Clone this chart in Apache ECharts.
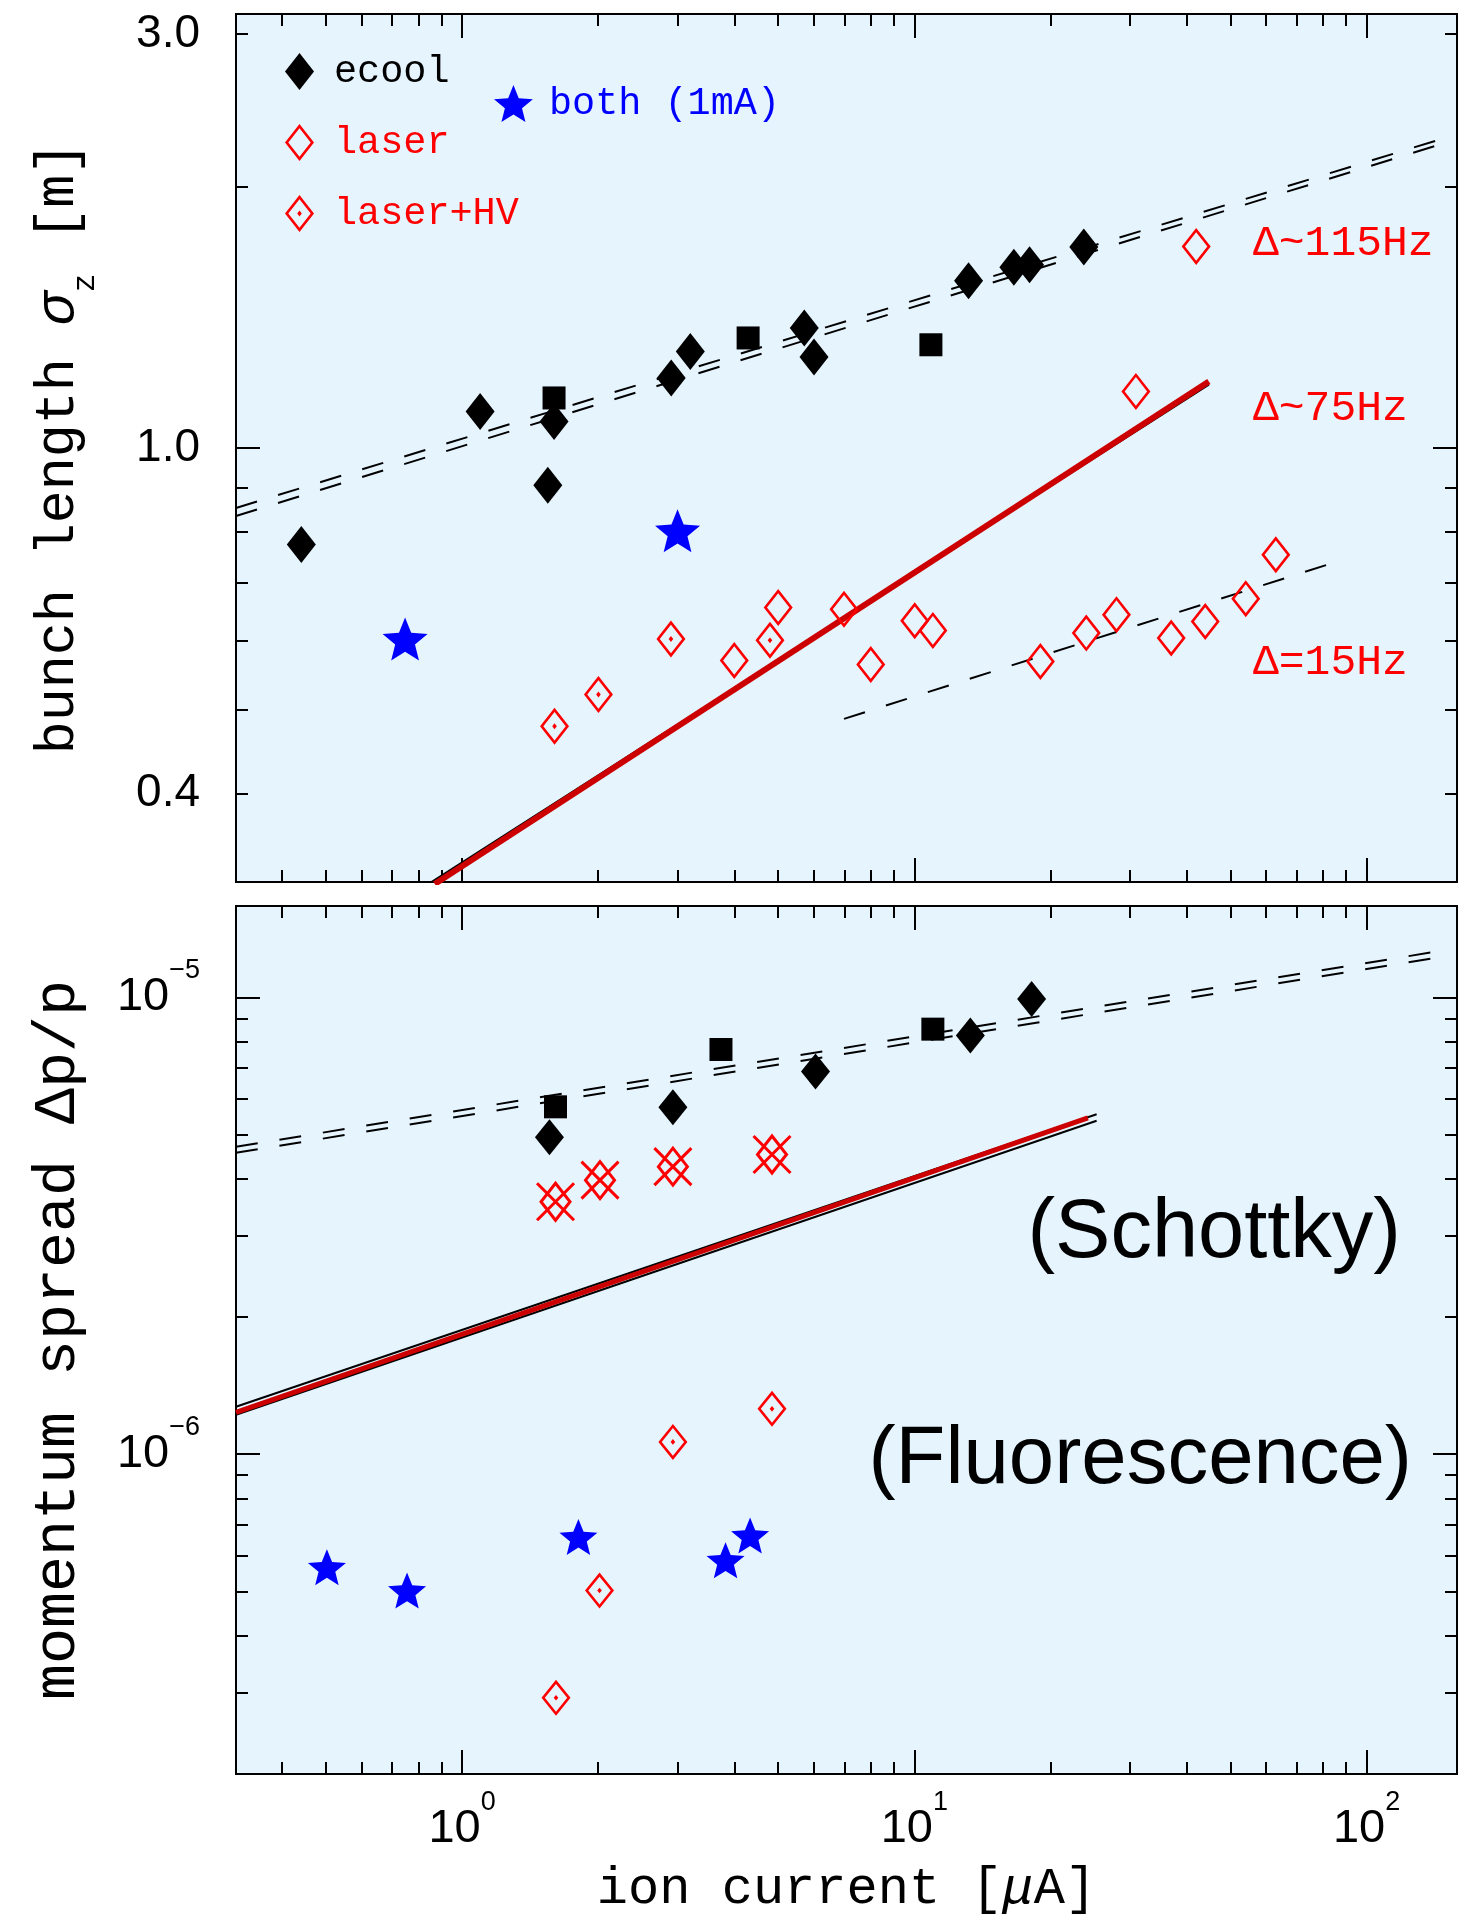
<!DOCTYPE html>
<html><head><meta charset="utf-8">
<script src="https://cdn.jsdelivr.net/npm/echarts@6/dist/echarts.min.js"></script>
<style>html,body{margin:0;padding:0;background:#fff}#chart{width:1473px;height:1926px}</style>
</head><body><div id="chart"></div>
<script>
// ===== DATA: [ion current (uA), value] =====
// upper panel: bunch length sigma_z [m]
const ecoolTop   = [[0.441,0.774],[1.096,1.102],[1.597,1.073],[1.547,0.906],[2.90,1.204],[3.196,1.292],[5.71,1.375],[6.0,1.273],[13.18,1.558],[16.6,1.615],[17.98,1.626],[23.7,1.704]];
const ecoolSqTop = [[1.597,1.142],[4.29,1.339],[10.88,1.315]];
const laserTop   = [[3.998,0.569],[5.0,0.655],[6.99,0.652],[8.01,0.563],[10.02,0.6325],[10.99,0.6164],[19.0,0.5677],[24.0,0.612],[27.99,0.6427],[36.98,0.604],[43.98,0.631],[54.06,0.6706],[63.0,0.7535],[30.9,1.162],[42.0,1.707]];
const laserHVTop = [[1.601,0.478],[2.002,0.520],[2.896,0.6025],[4.795,0.6004]];
const bothTop    = [[0.748,0.6025],[2.995,0.803]];
const fitEcoolTopA = [[0.3162,0.853],[144.5,2.265]];
const fitEcoolTopB = [[0.3162,0.835],[144.5,2.235]];
const fit75Red     = [[0.87,0.3146],[44.8,1.193]];
const fit75Black   = [[0.834,0.3135],[44.8,1.183]];
const fit15        = [[6.99,0.4874],[90.0,0.7454]];
// lower panel: momentum spread dp/p
const ecoolBot   = [[1.56,4.94e-6],[2.925,5.75e-6],[6.046,6.88e-6],[13.3,8.25e-6],[18.17,9.92e-6]];
const ecoolSqBot = [[1.609,5.76e-6],[3.736,7.69e-6],[10.99,8.52e-6]];
const laserSchBot = [[1.609,3.57e-6],[2.018,3.98e-6],[2.925,4.26e-6],[4.845,4.53e-6]];
const laserHVBot = [[1.613,2.93e-7],[2.013,5.03e-7],[2.925,1.064e-6],[4.845,1.257e-6]];
const bothBot    = [[0.5024,5.66e-7],[0.7555,5.03e-7],[1.808,6.59e-7],[3.824,5.86e-7],[4.333,6.64e-7]];
const fitEcoolBotA = [[0.3162,4.71e-6],[144.5,1.262e-5]];
const fitEcoolBotB = [[0.3162,4.57e-6],[144.5,1.224e-5]];
const fitSchRed    = [[0.3162,1.235e-6],[24.2,5.45e-6]];
const fitSchBlackA = [[0.3162,1.27e-6],[25.3,5.55e-6]];
const fitSchBlackB = [[0.3162,1.22e-6],[25.3,5.37e-6]];
// axes
const X_RANGE = [0.31623, 158.49];
const Y_TOP_RANGE = [0.31623, 3.1623];
const Y_BOT_RANGE = [1.9953e-7, 1.5849e-5];
const xMajor = [1, 10, 100];
const xMinor = [0.4,0.5,0.6,0.7,0.8,0.9,2,3,4,5,6,7,8,9,20,30,40,50,60,70,80,90];
const xLabels = [1, 10, 100];
const yTopMajor = [1];
const yTopMinor = [0.4,0.5,0.6,0.7,0.8,0.9,2,3];
const yTopLabels = [0.4, 1, 3];
const yBotMajor = [1e-6, 1e-5];
const yBotMinor = [3e-7,4e-7,5e-7,6e-7,7e-7,8e-7,9e-7,2e-6,3e-6,4e-6,5e-6,6e-6,7e-6,8e-6,9e-6];
const yBotLabels = [1e-6, 1e-5];

// ===== STYLE =====
const RED = '#ff0000', DRED = '#cc0000', BLUE = '#0000ff';
const DIAMOND = 'path://M14.5,0L29,18.5L14.5,37L0,18.5Z';
const DIAMOND_RING = 'path://M14.5,0L29,18.5L14.5,37L0,18.5Z M14.5,4.22L3.31,18.5L14.5,32.78L25.69,18.5Z';
const DIAMOND_RING_DOT = DIAMOND_RING + ' M14.5,15.6L16.8,18.5L14.5,21.4L12.2,18.5Z';
const STAR = 'path://M50,0L62.93,32.2L97.55,34.55L70.92,56.8L79.39,90.45L50,72L20.61,90.45L29.08,56.8L2.45,34.55L37.07,32.2Z';
const XDIAMOND = 'path://M0,0L37,37M37,0L0,37M18.5,0L33,18.5L18.5,37L4,18.5Z';
const MONO = 'Liberation Mono', SANS = 'Liberation Sans';

const expRich = {
  b: {fontFamily: SANS, fontSize: 47, lineHeight: 80, color: '#000'},
  s: {fontFamily: SANS, fontSize: 27, lineHeight: 27, verticalAlign: 'top', color: '#000'}
};
function expFmt(v) {
  const e = Math.round(Math.log10(v));
  return '{b|10}{s|' + (e < 0 ? '\u2212' + (-e) : String(e)) + '}';
}

function axis(gridIndex, position, range, ticks, len, extra) {
  return Object.assign({
    type: 'log', logBase: 10, gridIndex: gridIndex, position: position,
    min: range[0], max: range[1],
    axisLine: {show: false},
    axisTick: {show: true, inside: true, length: len, customValues: ticks, lineStyle: {color: '#000', width: 2}},
    axisLabel: {show: false},
    splitLine: {show: false},
    minorTick: {show: false}, minorSplitLine: {show: false},
    nameMoveOverlap: false
  }, extra || {});
}

const xAxes = [
  axis(0, 'bottom', X_RANGE, xMajor, 24),
  axis(0, 'bottom', X_RANGE, xMinor, 12),
  axis(0, 'top', X_RANGE, xMajor, 24),
  axis(0, 'top', X_RANGE, xMinor, 12),
  axis(1, 'bottom', X_RANGE, xMajor, 24, {
    axisLabel: {show: true, customValues: xLabels, margin: 15, formatter: expFmt, rich: expRich, color: '#000'},
    name: 'ion current [{i|\u03bc}A]', nameLocation: 'middle', nameGap: 89,
    nameTextStyle: {fontFamily: MONO, fontSize: 52, color: '#000', lineHeight: 52,
      rich: {i: {fontFamily: MONO, fontStyle: 'italic', fontSize: 52, lineHeight: 52, color: '#000'}}}
  }),
  axis(1, 'bottom', X_RANGE, xMinor, 12),
  axis(1, 'top', X_RANGE, xMajor, 24),
  axis(1, 'top', X_RANGE, xMinor, 12)
];
const yAxes = [
  axis(0, 'left', Y_TOP_RANGE, yTopMajor, 24, {
    axisLabel: {show: true, customValues: yTopLabels, margin: 36, formatter: function (v) { return Number(v).toFixed(1); },
      fontFamily: SANS, fontSize: 46, color: '#000'},
    name: 'bunch length {s|\u03c3}{sub|z} [m]', nameLocation: 'middle', nameRotate: 90, nameGap: 135,
    nameTextStyle: {fontFamily: MONO, fontSize: 55, color: '#000', lineHeight: 86, rich: {
      s: {fontFamily: MONO, fontStyle: 'italic', fontSize: 55, lineHeight: 86, color: '#000'},
      sub: {fontFamily: MONO, fontSize: 31, lineHeight: 30, verticalAlign: 'bottom', color: '#000'}
    }}
  }),
  axis(0, 'left', Y_TOP_RANGE, yTopMinor, 12),
  axis(0, 'right', Y_TOP_RANGE, yTopMajor, 24),
  axis(0, 'right', Y_TOP_RANGE, yTopMinor, 12),
  axis(1, 'left', Y_BOT_RANGE, yBotMajor, 24, {
    axisLabel: {show: true, customValues: yBotLabels, margin: 36, formatter: expFmt, rich: expRich, color: '#000'},
    name: 'momentum spread \u0394p/p', nameLocation: 'middle', nameRotate: 90, nameGap: 135,
    nameTextStyle: {fontFamily: MONO, fontSize: 60, color: '#000', lineHeight: 86}
  }),
  axis(1, 'left', Y_BOT_RANGE, yBotMinor, 12),
  axis(1, 'right', Y_BOT_RANGE, yBotMajor, 24),
  axis(1, 'right', Y_BOT_RANGE, yBotMinor, 12)
];

function sc(name, data, g, symbol, size, itemStyle) {
  return {type: 'scatter', name: name, data: data, xAxisIndex: g * 4, yAxisIndex: g * 4,
    symbol: symbol, symbolSize: size, itemStyle: Object.assign({opacity: 1}, itemStyle), z: 5, silent: true};
}
function ln(data, g, color, width, type, z) {
  return {type: 'line', data: data, xAxisIndex: g * 4, yAxisIndex: g * 4, symbol: 'none', showSymbol: false,
    clip: true, silent: true, z: z || 3, lineStyle: {color: color, width: width, type: type || 'solid', opacity: 1}};
}

const series = [
  // upper panel lines
  ln(fitEcoolTopA, 0, '#000', 2, [22, 22]),
  ln(fitEcoolTopB, 0, '#000', 2, [22, 22]),
  ln(fit75Black, 0, '#000', 2),
  ln(fit75Red, 0, DRED, 6, 'solid', 4),
  ln(fit15, 0, '#000', 2, [22, 22]),
  // upper panel points
  sc('ecool', ecoolTop, 0, DIAMOND, [29, 37], {color: '#000'}),
  sc('ecool (square)', ecoolSqTop, 0, 'rect', 23, {color: '#000'}),
  sc('laser', laserTop, 0, DIAMOND_RING, [29, 37], {color: RED}),
  sc('laser+HV', laserHVTop, 0, DIAMOND_RING_DOT, [29, 37], {color: RED}),
  sc('both (1mA)', bothTop, 0, STAR, [45, 43], {color: BLUE}),
  // lower panel lines
  ln(fitEcoolBotA, 1, '#000', 2, [22, 22]),
  ln(fitEcoolBotB, 1, '#000', 2, [22, 22]),
  ln(fitSchBlackA, 1, '#000', 2),
  ln(fitSchBlackB, 1, '#000', 2),
  ln(fitSchRed, 1, DRED, 5, 'solid', 4),
  // lower panel points
  sc('ecool', ecoolBot, 1, DIAMOND, [29, 36], {color: '#000'}),
  sc('ecool (square)', ecoolSqBot, 1, 'rect', 23, {color: '#000'}),
  sc('laser (Schottky)', laserSchBot, 1, XDIAMOND, [37, 37], {color: 'transparent', borderColor: RED, borderWidth: 3}),
  sc('laser+HV', laserHVBot, 1, DIAMOND_RING_DOT, [29, 36], {color: RED}),
  sc('both (1mA)', bothBot, 1, STAR, [38, 36], {color: BLUE})
];

const gridStyle = {show: true, backgroundColor: '#e6f4fe', borderColor: '#000', borderWidth: 2, containLabel: false, outerBoundsMode: 'none'};

const option = {
  animation: false,
  backgroundColor: '#ffffff',
  grid: [
    Object.assign({left: 236, top: 14, width: 1221, height: 868}, gridStyle),
    Object.assign({left: 236, top: 906, width: 1221, height: 868}, gridStyle)
  ],
  xAxis: xAxes,
  yAxis: yAxes,
  legend: [
    {orient: 'vertical', left: 285, top: 52, padding: 0, itemWidth: 59, itemHeight: 37, itemGap: 32,
      selectedMode: false, symbolKeepAspect: true,
      textStyle: {fontFamily: MONO, fontSize: 38.5},
      data: [{name: 'ecool', textStyle: {color: '#000'}},
             {name: 'laser', textStyle: {color: RED}},
             {name: 'laser+HV', textStyle: {color: RED}}]},
    {orient: 'vertical', left: 494, top: 84, padding: 0, itemWidth: 61, itemHeight: 37,
      selectedMode: false, symbolKeepAspect: true,
      textStyle: {fontFamily: MONO, fontSize: 38.5},
      data: [{name: 'both (1mA)', textStyle: {color: BLUE}}]}
  ],
  graphic: [
    {type: 'text', x: 1253, y: 244, style: {text: '\u0394~115Hz', fill: RED, fontFamily: MONO, fontSize: 43, align: 'left', verticalAlign: 'middle'}},
    {type: 'text', x: 1253, y: 409, style: {text: '\u0394~75Hz', fill: RED, fontFamily: MONO, fontSize: 43, align: 'left', verticalAlign: 'middle'}},
    {type: 'text', x: 1253, y: 663, style: {text: '\u0394=15Hz', fill: RED, fontFamily: MONO, fontSize: 43, align: 'left', verticalAlign: 'middle'}},
    {type: 'text', x: 1401, y: 1234, style: {text: '(Schottky)', fill: '#000', fontFamily: SANS, fontSize: 83, align: 'right', verticalAlign: 'middle'}},
    {type: 'text', x: 1412, y: 1461, style: {text: '(Fluorescence)', fill: '#000', fontFamily: SANS, fontSize: 81.5, align: 'right', verticalAlign: 'middle'}}
  ],
  series: series
};

const chart = echarts.init(document.getElementById('chart'), null, {renderer: 'canvas', width: 1473, height: 1926});
chart.setOption(option);
</script>
</body></html>
